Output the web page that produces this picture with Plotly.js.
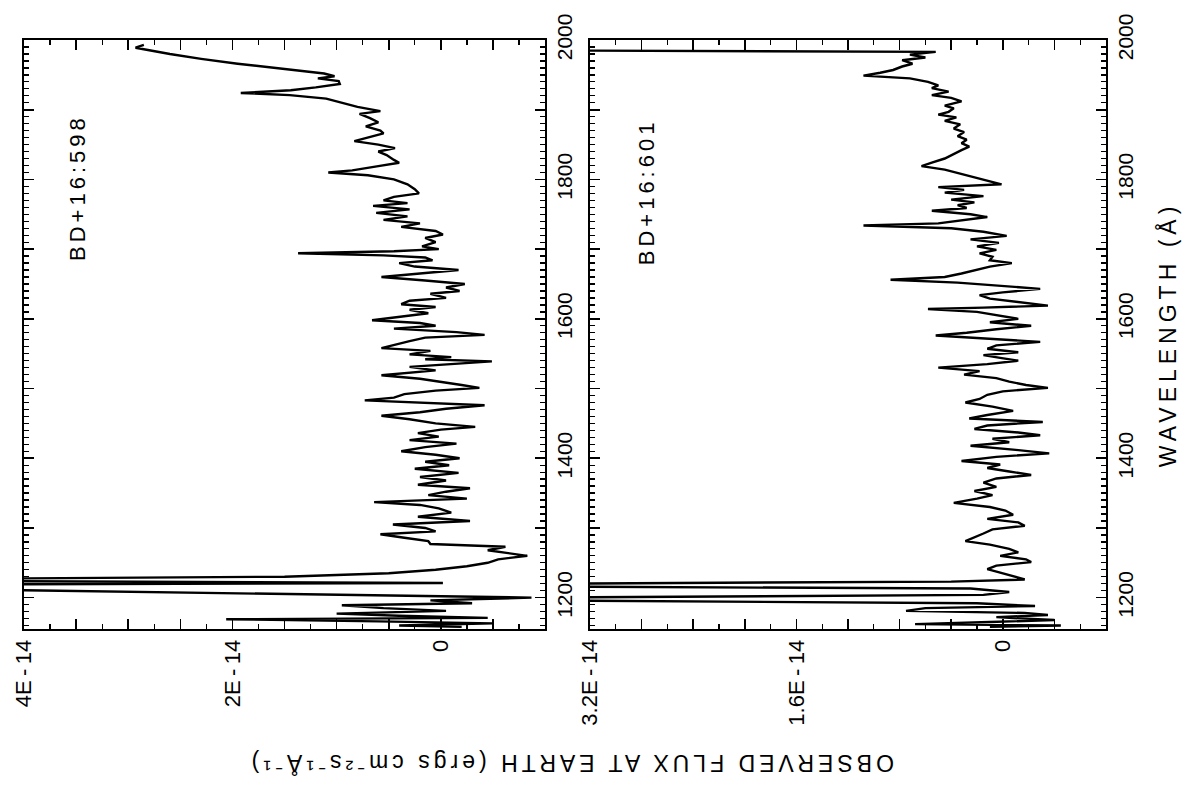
<!DOCTYPE html>
<html><head><meta charset="utf-8">
<script src="https://cdn.plot.ly/plotly-3.0.1.min.js"></script>
<style>
html,body{margin:0;padding:0;background:#fff}
#chart{width:1190px;height:791px}
.annotation-text{letter-spacing:4px}
.annotation[data-index="2"] .annotation-text{letter-spacing:5px}
</style></head><body><div id="chart"></div>
<script>
// Flux values in units of 1E-14 ergs cm^-2 s^-1 A^-1, wavelength in Angstrom
const wl598 = [1993,1989,1980,1973,1966,1960,1955,1952,1948,1945,1941,1937,1932,1928,1924,1921,1916,1910,1904,1898,1894,1888,1882,1876,1870,1866,1860,1855,1850,1845,1840,1835,1828,1824,1819,1813,1810,1806,1800,1793,1786,1780,1775,1770,1766,1762,1757,1752,1747,1742,1737,1732,1726,1721,1716,1710,1704,1700,1697,1694,1691,1688,1684,1680,1675,1670,1665,1660,1655,1650,1645,1640,1636,1630,1626,1621,1617,1613,1608,1603,1598,1594,1590,1586,1581,1577,1573,1568,1563,1558,1554,1549,1545,1542,1539,1535,1531,1526,1522,1519,1514,1509,1505,1501,1497,1492,1487,1483,1479,1476,1471,1466,1461,1456,1450,1445,1441,1436,1431,1426,1421,1416,1410,1405,1400,1395,1390,1385,1379,1373,1368,1362,1357,1352,1347,1342,1337,1333,1328,1322,1316,1310,1305,1300,1295,1291,1286,1281,1277,1273,1268,1264,1260,1255,1250,1245,1240,1235,1230,1227,1224,1221,1219,1216,1212,1200,1196,1192,1189,1185,1181,1177,1174,1171,1169,1166,1163,1160,1158];
const flux598 = [2.85,2.93,2.60,2.30,1.95,1.60,1.25,1.12,1.02,1.18,0.98,0.97,1.20,1.44,1.92,1.45,1.10,0.95,0.80,0.58,0.78,0.68,0.60,0.72,0.58,0.55,0.70,0.83,0.60,0.44,0.60,0.52,0.45,0.40,0.60,0.85,1.08,0.70,0.45,0.32,0.25,0.21,0.45,0.55,0.32,0.65,0.30,0.62,0.32,0.55,0.20,0.38,0.05,-0.02,0.15,0.05,0.18,0.02,0.45,1.37,0.55,0.15,0.08,0.40,0.25,-0.17,0.20,0.57,0.15,-0.23,-0.05,-0.18,0.10,-0.05,0.30,0.38,0.05,0.30,0.12,0.40,0.66,0.20,0.05,0.45,-0.15,-0.42,0.15,0.30,0.45,0.57,0.10,0.30,-0.10,0.15,-0.49,-0.05,0.30,0.05,0.35,0.57,0.20,0.00,-0.20,-0.37,0.05,0.35,0.45,0.73,0.15,-0.42,-0.05,0.20,0.57,0.30,0.05,-0.33,0.00,0.22,0.02,0.30,-0.15,0.15,0.38,0.05,-0.18,0.15,-0.08,0.25,-0.17,0.20,-0.05,0.22,-0.28,-0.05,0.12,-0.25,0.64,0.20,0.02,-0.10,0.22,-0.28,0.46,0.15,0.05,0.58,0.35,0.12,0.10,-0.62,-0.45,-0.65,-0.83,-0.55,-0.45,-0.25,0.05,0.50,1.50,4.60,4.60,-0.02,4.60,4.60,4.60,-0.87,0.10,-0.30,0.95,0.55,-0.05,1.00,0.40,-0.45,2.06,0.60,-0.50,0.40,-0.20];

const wl601 = [1992,1985,1983,1979,1975,1971,1966,1962,1957,1953,1949,1945,1940,1935,1931,1926,1921,1917,1912,1906,1902,1897,1893,1889,1884,1879,1873,1868,1862,1857,1852,1847,1842,1836,1830,1824,1819,1814,1809,1804,1799,1793,1789,1785,1781,1776,1771,1767,1763,1759,1755,1750,1746,1741,1737,1734,1730,1725,1719,1714,1709,1704,1699,1694,1689,1684,1680,1675,1670,1665,1660,1656,1652,1648,1643,1638,1634,1629,1624,1619,1616,1614,1610,1605,1600,1595,1590,1585,1580,1576,1572,1567,1562,1557,1552,1548,1544,1540,1535,1530,1525,1520,1515,1510,1505,1501,1496,1491,1485,1480,1474,1468,1462,1457,1452,1447,1442,1437,1433,1428,1423,1418,1412,1407,1402,1396,1391,1386,1381,1376,1371,1365,1359,1353,1347,1342,1336,1330,1325,1319,1313,1308,1303,1298,1292,1287,1281,1276,1270,1265,1260,1255,1251,1246,1241,1236,1231,1226,1223,1220,1216,1213,1208,1204,1200,1196,1192,1188,1185,1181,1178,1175,1172,1168,1165,1162,1160,1158];
const flux601 = [3.6,3.6,0.52,0.72,0.60,0.78,0.70,0.78,0.85,0.95,1.08,0.72,0.58,0.50,0.55,0.42,0.55,0.40,0.32,0.45,0.38,0.42,0.50,0.36,0.45,0.33,0.38,0.30,0.35,0.28,0.32,0.26,0.32,0.38,0.45,0.55,0.63,0.45,0.35,0.25,0.15,0.01,0.50,0.30,0.45,0.15,0.40,0.22,0.35,0.28,0.55,0.25,0.12,0.35,0.50,1.08,0.40,0.15,-0.03,0.25,0.03,0.20,0.05,0.18,0.08,0.10,-0.07,0.10,0.20,0.32,0.45,0.87,0.35,0.05,-0.29,0.00,0.18,0.10,-0.15,-0.35,0.15,0.58,0.20,0.05,-0.12,0.10,-0.22,0.05,0.28,0.52,0.15,-0.29,0.05,0.12,-0.12,0.15,0.02,-0.12,0.12,0.50,0.18,0.30,0.05,-0.05,-0.18,-0.35,0.00,0.12,0.18,0.29,0.08,-0.08,0.12,0.26,-0.31,0.12,0.22,-0.12,-0.29,0.08,-0.05,0.25,-0.10,-0.36,0.05,0.32,0.02,0.12,-0.05,-0.22,0.05,0.15,0.05,0.22,0.08,0.20,0.38,0.10,-0.02,-0.08,0.12,-0.12,-0.17,0.08,0.15,0.22,0.29,0.10,-0.05,-0.12,0.02,-0.18,-0.22,0.05,0.12,0.02,-0.08,-0.17,0.40,3.6,3.6,0.25,-0.05,0.15,3.6,3.6,0.20,-0.25,0.60,0.75,-0.17,-0.35,0.05,-0.40,0.10,0.68,-0.45,0.10];

// tick label texts (axis values are in units of 1E-14)
const T = '\u2009';
const fluxAlias598 = {'4':'4E'+T+'-'+T+'14', '2':'2E'+T+'-'+T+'14', '0':'0'};
const fluxAlias601 = {'3.2':'3.2E'+T+'-'+T+'14', '1.6':'1.6E'+T+'-'+T+'14', '0':'0'};

const names = ['BD+16:598','BD+16:601'];
const xTitle = 'OBSERVED FLUX AT EARTH (ergs cm\u207B\u00B2s\u207B\u00B9Å\u207B\u00B9)';
const yTitle = 'WAVELENGTH (Å)';

const font = {family:'Liberation Sans, Arial, sans-serif', color:'#000'};

const traces = [
  {x: flux598, y: wl598, xaxis:'x', yaxis:'y', mode:'lines', line:{color:'#000', width:2.4}},
  {x: flux601, y: wl601, xaxis:'x2', yaxis:'y2', mode:'lines', line:{color:'#000', width:2.4}}
];

function fluxAxis(domain, range, major, minorStep, alias, anchor){
  return {domain, range, anchor,
    tickmode:'linear', tick0:0, dtick:major, ticklabelstep:4, labelalias:alias,
    ticks:'inside', ticklen:10, tickwidth:1.6, tickcolor:'#000',
    minor:{ticks:'inside', ticklen:5, tickwidth:1.3, tickcolor:'#000', dtick:minorStep, tick0:0},
    mirror:'allticks', showline:true, linewidth:2, linecolor:'#000',
    showgrid:false, zeroline:false, tickangle:-90,
    tickfont:{...font, size:22}};
}
function wlAxis(anchor){
  return {domain:[0.2048,0.9494], range:[1155,2000], anchor, side:'right',
    tickmode:'linear', tick0:1200, dtick:100, ticklabelstep:2,
    ticks:'inside', ticklen:10, tickwidth:1.6, tickcolor:'#000',
    minor:{ticks:'inside', ticklen:5, tickwidth:1.3, tickcolor:'#000', dtick:10, tick0:1200},
    mirror:'allticks', showline:true, linewidth:2, linecolor:'#000',
    showgrid:false, zeroline:false, tickangle:-90,
    tickfont:{...font, size:21}};
}

const layout = {
  width:1190, height:791, margin:{l:0,r:0,t:0,b:0},
  paper_bgcolor:'#fff', plot_bgcolor:'#fff', showlegend:false,
  xaxis: fluxAxis([0.0202,0.458],[4,-1],0.5,0.25,fluxAlias598,'y'),
  xaxis2: fluxAxis([0.4958,0.9294],[3.2,-0.8],0.4,0.2,fluxAlias601,'y2'),
  yaxis: wlAxis('x'),
  yaxis2: wlAxis('x2'),
  annotations:[
    {text:names[0], xref:'paper', yref:'paper', x:0.0655, y:0.7636, textangle:-90, showarrow:false, xanchor:'center', yanchor:'middle', font:{...font,size:22}},
    {text:names[1], xref:'paper', yref:'paper', x:0.5429, y:0.757, textangle:-90, showarrow:false, xanchor:'center', yanchor:'middle', font:{...font,size:22}},
    {text:yTitle, xref:'paper', yref:'paper', x:0.981, y:0.578, textangle:-90, showarrow:false, xanchor:'center', yanchor:'middle', font:{...font,size:23}},
    {text:xTitle, xref:'paper', yref:'paper', x:0.4798, y:0.0341, textangle:180, showarrow:false, xanchor:'center', yanchor:'middle', font:{...font,size:23}}
  ]
};

Plotly.newPlot('chart', traces, layout, {staticPlot:true, displayModeBar:false}).then(function(){
  document.querySelectorAll('#chart text').forEach(function(t){
    if (!t.textContent.trim()) t.remove();
  });
});
</script></body></html>
